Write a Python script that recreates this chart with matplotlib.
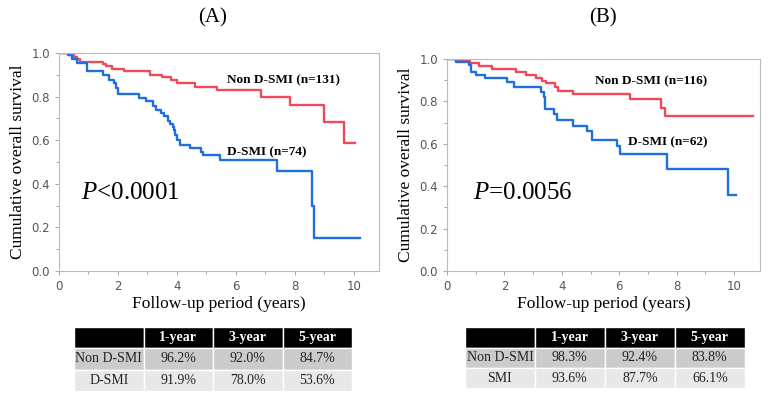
import matplotlib
matplotlib.use('Agg')
import matplotlib.pyplot as plt
from matplotlib.ticker import MultipleLocator

# Kaplan-Meier step data (time in years, survival)
a_non_t = [0, 0.3, 0.5, 0.6, 0.7, 1.5, 1.6, 1.8, 2.2, 3.1, 3.5, 3.8, 4.0, 4.6, 5.35, 6.85, 7.85, 9.0, 9.65, 10.05]
a_non_s = [1.0, 0.99, 0.98, 0.97, 0.96, 0.95, 0.938, 0.926, 0.915, 0.90, 0.89, 0.875, 0.86, 0.845, 0.83, 0.80, 0.76, 0.685, 0.585, 0.585]
a_dsmi_t = [0, 0.3, 0.45, 0.6, 0.95, 1.5, 1.7, 1.85, 1.95, 2.0, 2.7, 2.95, 3.2, 3.3, 3.45, 3.55, 3.7, 3.78, 3.85, 3.9, 3.95, 4.0, 4.1,
            4.45, 4.8, 4.9, 5.45, 7.4, 8.58, 8.65, 10.2]
a_dsmi_s = [1.0, 0.99, 0.97, 0.955, 0.915, 0.90, 0.875, 0.86, 0.84, 0.81, 0.795, 0.78, 0.755, 0.74, 0.725, 0.71, 0.69, 0.675, 0.66,
            0.645, 0.625, 0.60, 0.58, 0.565, 0.545, 0.53, 0.51, 0.46, 0.30, 0.15, 0.15]

b_non_t = [0, 0.3, 0.8, 1.1, 1.55, 2.4, 2.75, 3.1, 3.3, 3.45, 3.75, 3.88, 4.38, 6.37, 7.45, 7.6, 10.65]
b_non_s = [1.0, 0.99, 0.98, 0.965, 0.953, 0.939, 0.926, 0.91, 0.895, 0.885, 0.87, 0.85, 0.835, 0.81, 0.77, 0.73, 0.73]
b_dsmi_t = [0, 0.3, 0.78, 0.85, 1.0, 1.33, 2.09, 2.34, 3.27, 3.36, 3.42, 3.73, 3.82, 4.38, 4.87, 5.04, 5.91, 6.03, 7.65, 9.79, 10.06]
b_dsmi_s = [1.0, 0.985, 0.97, 0.94, 0.925, 0.91, 0.89, 0.87, 0.845, 0.82, 0.765, 0.74, 0.71, 0.685, 0.66, 0.62, 0.59, 0.55, 0.48, 0.36, 0.36]

col_labels = ['', '1-year', '3-year', '5-year']
a_rows = ['Non D-SMI', 'D-SMI']
a_vals = [['96.2%', '92.0%', '84.7%'], ['91.9%', '78.0%', '53.6%']]
b_rows = ['Non D-SMI', 'SMI']
b_vals = [['98.3%', '92.4%', '83.8%'], ['93.6%', '87.7%', '66.1%']]

red = '#EE4A5A'
blue = '#1F6FE3'
serif = 'Liberation Serif'
matplotlib.rcParams['mathtext.fontset'] = 'custom'
matplotlib.rcParams['mathtext.rm'] = 'Liberation Serif'
matplotlib.rcParams['mathtext.it'] = 'Liberation Serif:italic'

fig = plt.figure(figsize=(7.71, 4.01), dpi=100, facecolor='w')


def km_panel(rect, xmax, t1, s1, t2, s2, lab1, pos1, lab2, pos2, ptxt, ppos):
    ax = fig.add_axes(rect)
    ax.step(t1, s1, where='post', color=red, lw=1.7)
    ax.step(t2, s2, where='post', color=blue, lw=1.7)
    ax.set_xlim(0, xmax)
    ax.set_ylim(0, 1.0)
    ax.set_xticks([0, 2, 4, 6, 8, 10])
    ax.set_yticks([0.0, 0.2, 0.4, 0.6, 0.8, 1.0])
    ax.set_yticklabels(['0.0', '0.2', '0.4', '0.6', '0.8', '1.0'])
    ax.xaxis.set_minor_locator(MultipleLocator(1))
    ax.yaxis.set_minor_locator(MultipleLocator(0.1))
    ax.tick_params(which='both', colors='#999999', labelcolor='#555555', labelsize=8.5, length=3, width=0.6)
    ax.tick_params(which='minor', length=2)
    for sp in ax.spines.values():
        sp.set_color('#BBBBBB')
        sp.set_linewidth(0.8)
    ax.set_ylabel('Cumulative overall survival', fontfamily=serif, fontsize=12.5, labelpad=4)
    ax.set_xlabel('Follow-up period (years)', fontfamily=serif, fontsize=12.5, labelpad=2)
    ax.text(pos1[0], pos1[1], lab1, fontfamily=serif, fontweight='bold', fontsize=9.5, va='center')
    ax.text(pos2[0], pos2[1], lab2, fontfamily=serif, fontweight='bold', fontsize=9.5, va='center')
    ax.text(ppos[0], ppos[1], ptxt, fontfamily=serif, fontsize=18, va='center')
    return ax


km_panel([0.0765, 0.324, 0.415, 0.544], 10.85, a_non_t, a_non_s, a_dsmi_t, a_dsmi_s,
         'Non D-SMI (n=131)', (5.7, 0.876), 'D-SMI (n=74)', (5.7, 0.546),
         '$\\mathit{P}$<0.0001', (0.75, 0.36))
km_panel([0.5798, 0.324, 0.406, 0.529], 10.9, b_non_t, b_non_s, b_dsmi_t, b_dsmi_s,
         'Non D-SMI (n=116)', (5.16, 0.896), 'D-SMI (n=62)', (6.3, 0.608),
         '$\\mathit{P}$=0.0056', (0.9, 0.37))

fig.text(213 / 771, 1 - 18 / 401, '(A)', fontfamily=serif, fontsize=15, ha='center', va='center')
fig.text(603 / 771, 1 - 18 / 401, '(B)', fontfamily=serif, fontsize=15, ha='center', va='center')


def surv_table(rect, rows, vals):
    ax = fig.add_axes(rect)
    ax.axis('off')
    cells = [col_labels] + [[r] + v for r, v in zip(rows, vals)]
    tb = ax.table(cellText=cells, bbox=[0, 0, 1, 1], cellLoc='center')
    tb.auto_set_font_size(False)
    for (r, c), cell in tb.get_celld().items():
        cell.set_edgecolor('white')
        cell.set_linewidth(1.0)
        txt = cell.get_text()
        txt.set_fontfamily(serif)
        txt.set_fontsize(10)
        if r == 0:
            cell.set_facecolor('black')
            txt.set_color('white')
            txt.set_fontweight('bold')
        elif r == 1:
            cell.set_facecolor('#CBCBCB')
            txt.set_color('#222222')
        else:
            cell.set_facecolor('#E8E8E8')
            txt.set_color('#222222')


surv_table([0.096, 0.025, 0.3606, 0.16], a_rows, a_vals)
surv_table([0.603, 0.032, 0.363, 0.152], b_rows, b_vals)

plt.savefig('out.png', dpi=100, facecolor='w')
plt.close()
